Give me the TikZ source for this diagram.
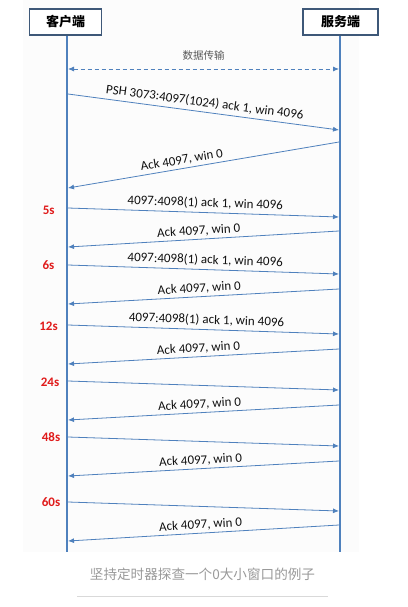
\documentclass[tikz,border=0pt]{standalone}
\usepackage{fontspec}
\setmainfont{Carlito}
\newfontfamily\cjk{Noto Sans CJK SC}
\usetikzlibrary{arrows.meta}
\definecolor{lineblue}{HTML}{4F81BD}
\definecolor{boxcol}{HTML}{3E5878}
\definecolor{timered}{HTML}{E01B1B}
\definecolor{capgray}{HTML}{9A9A9A}
\definecolor{bgpanel}{HTML}{FCFCFC}
\definecolor{labtext}{HTML}{111111}
\begin{document}
\begin{tikzpicture}[x=1pt,y=-1pt,
  actor/.style={draw=boxcol, line width=1.8pt, fill=white, minimum height=26pt, inner sep=0pt,
                font=\cjk\bfseries\fontsize{13}{15}\selectfont},
  life/.style={draw=lineblue, line width=1.8pt},
  msg/.style={draw=lineblue, line width=0.8pt, -{Latex[length=6pt,width=5pt]}},
  dmsg/.style={draw=lineblue, line width=0.8pt, dash pattern=on 4pt off 3pt, {Latex[length=6pt,width=5pt]}-{Latex[length=6pt,width=5pt]}},
  lbl/.style={font=\fontsize{13}{15}\selectfont, text=labtext, sloped, above, inner sep=2.5pt},
  slbl/.style={lbl, inner sep=3.5pt},
  tlab/.style={text=timered, font=\bfseries\fontsize{13}{15}\selectfont, inner sep=0pt}
]
\useasboundingbox (0,0) rectangle (407,607);
\fill[white] (0,0) rectangle (407,607);
\fill[bgpanel] (23,0) rectangle (359,552);

% actors
\node[actor, minimum width=72pt] (cli) at (65.5,22) {客户端};
\node[actor, minimum width=75pt] (srv) at (340.5,22) {服务端};
\coordinate (cliend) at (67,552);
\coordinate (srvend) at (340,552);
\draw[life] (cli.south -| cliend) -- (cliend);
\draw[life] (srv.south -| srvend) -- (srvend);

% data transfer
\coordinate (d1) at (68,69);
\coordinate (d2) at (339,69);
\draw[dmsg] (d1) -- node[above=5pt, font=\cjk\fontsize{10.5}{12}\selectfont, text=black!65] (dlab) {数据传输} (d2);

% message endpoints
\coordinate (a1) at (68,94);   \coordinate (b1) at (339,130);
\coordinate (b2) at (339,142); \coordinate (a2) at (68,188);
\coordinate (a3) at (68,208);  \coordinate (b3) at (339,217);
\coordinate (b4) at (339,231); \coordinate (a4) at (68,247);
\coordinate (a5) at (68,265);  \coordinate (b5) at (339,274);
\coordinate (b6) at (339,289); \coordinate (a6) at (68,304);
\coordinate (a7) at (68,325);  \coordinate (b7) at (339,334);
\coordinate (b8) at (339,349); \coordinate (a8) at (68,364);
\coordinate (a9) at (68,381);  \coordinate (b9) at (339,390);
\coordinate (b10) at (339,405); \coordinate (a10) at (68,420);
\coordinate (a11) at (68,437); \coordinate (b11) at (339,446);
\coordinate (b12) at (339,461); \coordinate (a12) at (68,476);
\coordinate (a13) at (68,502); \coordinate (b13) at (339,511);
\coordinate (b14) at (339,525); \coordinate (a14) at (68,541);

\draw[msg] (a1) -- node[slbl, pos=0.5] (l1) {PSH 3073:4097(1024) ack 1, win 4096} (b1);
\draw[msg] (b2) -- node[lbl, pos=0.575] (l2) {Ack 4097, win 0} (a2);
\draw[msg] (a3) -- node[slbl, pos=0.505] (l3) {4097:4098(1) ack 1, win 4096} (b3);
\draw[msg] (b4) -- node[lbl, pos=0.516] (l4) {Ack 4097, win 0} (a4);
\draw[msg] (a5) -- node[slbl, pos=0.505] (l5) {4097:4098(1) ack 1, win 4096} (b5);
\draw[msg] (b6) -- node[lbl, pos=0.514] (l6) {Ack 4097, win 0} (a6);
\draw[msg] (a7) -- node[slbl, pos=0.51] (l7) {4097:4098(1) ack 1, win 4096} (b7);
\draw[msg] (b8) -- node[lbl, pos=0.517] (l8) {Ack 4097, win 0} (a8);
\draw[msg] (a9) -- (b9);
\draw[msg] (b10) -- node[lbl, pos=0.513] (l10) {Ack 4097, win 0} (a10);
\draw[msg] (a11) -- (b11);
\draw[msg] (b12) -- node[lbl, pos=0.509] (l12) {Ack 4097, win 0} (a12);
\draw[msg] (a13) -- (b13);
\draw[msg] (b14) -- node[lbl, pos=0.509] (l14) {Ack 4097, win 0} (a14);

% time labels
\node[tlab] (t5) at (48.7,210) {5s};
\node[tlab] (t6) at (48.5,265) {6s};
\node[tlab] (t12) at (48.5,326) {12s};
\node[tlab] (t24) at (50,382) {24s};
\node[tlab] (t48) at (51,437) {48s};
\node[tlab] (t60) at (51,502) {60s};

% caption
\node[font=\cjk\fontsize{13.6}{16}\selectfont, text=capgray] (cap) at (202.5,574) {坚持定时器探查一个0大小窗口的例子};
\coordinate (r1) at (77,596);
\coordinate (r2) at (328,596);
\draw[draw=black!15, line width=0.8pt] (r1) -- (r2);
\end{tikzpicture}
\end{document}
